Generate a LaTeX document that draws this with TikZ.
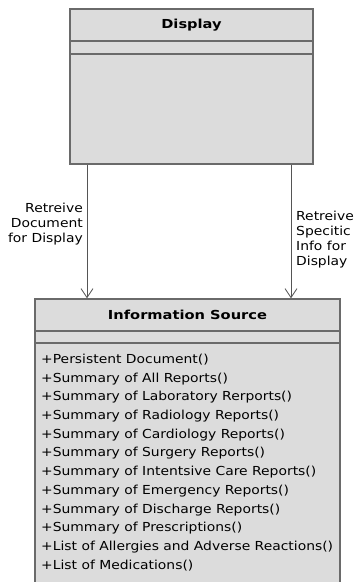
\documentclass[tikz,border=0pt]{standalone}
\usepackage{fontspec}
\setmainfont{DejaVu Sans}
\newfontfamily\umlfont[FakeStretch=1.12]{DejaVu Sans}
\newfontfamily\umlboldfont[FakeStretch=1.18]{DejaVu Sans}
\usetikzlibrary{positioning, arrows.meta}
\definecolor{boxfill}{HTML}{DCDCDC}
\definecolor{boxline}{HTML}{6A6A6A}
\tikzset{
	classbox/.style={draw=boxline, line width=1.4pt, fill=boxfill, inner sep=0pt}
}
\tikzset{
	classname/.style={font=\umlboldfont\fontsize{12.4}{14}\selectfont\bfseries, inner sep=0pt}
}
\tikzset{
	optext/.style={font=\umlfont\fontsize{12.4}{14}\selectfont, anchor=west, inner sep=0pt}
}
\tikzset{
	flowtext/.style={font=\umlfont\fontsize{12.4}{15}\selectfont, inner sep=0pt}
}
\tikzset{
	flow/.style={draw=boxline!80!black, line width=0.8pt, -{Straight Barb[length=9pt, width=12pt]}}
}

\begin{document}
\begin{tikzpicture}[x=1pt, y=-1pt]
      \useasboundingbox (0,0) rectangle (354,582);
      % display class
      \node[classbox, minimum width=243pt, minimum height=155pt] (disp) at (191.5,86.5) {};
      \node[classname] (dispname) at (191.5,25) {Display};
      \draw[boxline, line width=1.4pt] (disp.west |- 0,41) -- (disp.east |- 0,41);
      \draw[boxline, line width=1.4pt] (disp.west |- 0,54) -- (disp.east |- 0,54);
      % information source class
      \node[classbox, minimum width=305pt, minimum height=301pt] (info) at (187.5,449.5) {};
      \node[classname] (infoname) at (187.5,315) {Information Source};
      \draw[boxline, line width=1.4pt] (info.west |- 0,331) -- (info.east |- 0,331);
      \draw[boxline, line width=1.4pt] (info.west |- 0,343) -- (info.east |- 0,343);
      \foreach \m [count=\i from 0] in {Persistent Document(), Summary of All Reports(),
          Summary of Laboratory Rerports(), Summary of Radiology Reports(),
          Summary of Cardiology Reports(), Summary of Surgery Reports(),
          Summary of Intentsive Care Reports(), Summary of Emergency Reports(),
          Summary of Discharge Reports(), Summary of Prescriptions(),
          List of Allergies and Adverse Reactions(), List of Medications()}
        \node[optext] (op\i) at (41,{360+18.7*\i}) {+\m};
      % dependencies
      \coordinate (docx) at (87,0);
      \coordinate (infx) at (291,0);
      \draw[flow] (disp.south -| docx) -- (info.north -| docx);
      \draw[flow] (disp.south -| infx) -- (info.north -| infx);
      \node[flowtext, anchor=east, align=right] (doclbl) at (83,224) {Retreive\\Document\\for Display};
      \node[flowtext, anchor=west, align=left] (inflbl) at (296,240) {Retreive\\Specitic\\Info for\\Display};
    \end{tikzpicture}
\end{document}
